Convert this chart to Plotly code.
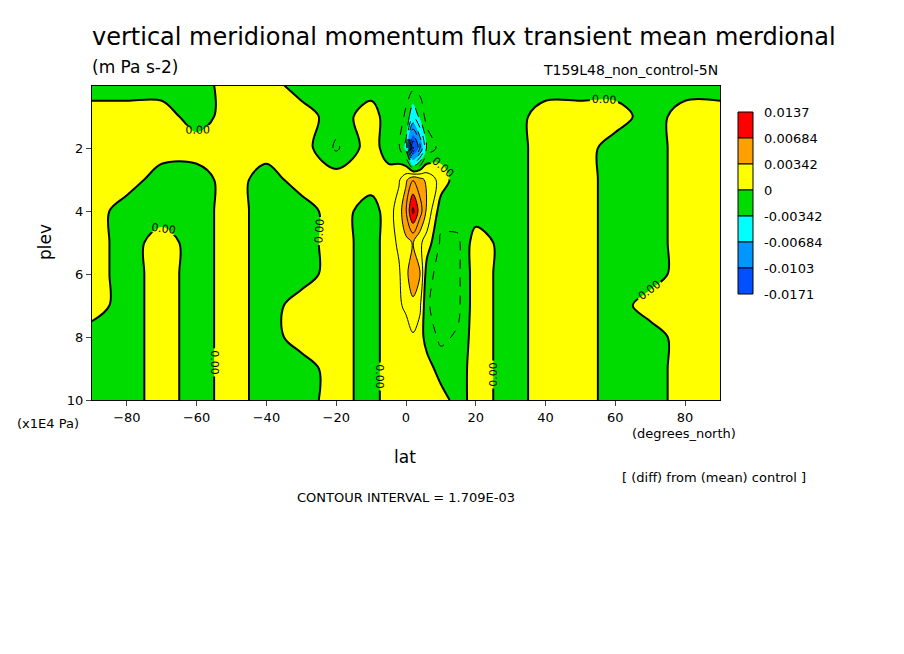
import plotly.graph_objects as go

lats = [-90,-80,-70,-60,-50,-40,-30,-20,-10,-5,-2,0,2,4,6,10,15,20,30,40,50,60,70,80,90]
plevs = [0.0,1,2,3,4,5,6,7,8,9,10]
# values in units of 1e-3 m Pa s-2
z = [
 [-1,-1,-1,-1,1,1,-1,-1,-1,-1,-1,-1,-1,-1,-1,-1,-1,-1,-1,-1,-1,-1,-1,-1,-1],
 [1,1,1,-1,1,1,1,-1,1,-1,-1,-2,-5,-3,-1,-1,-1,-1,-1,1,1,1,-1,1,1],
 [1,1,1,1,1,1,1,-2,1,-1,-1.5,-4,-14,-9,-3,-1,-1,-1,-1,1,1,-1,-1,1,1],
 [1,1,-1,-1,1,-1,1,1,1,1,1.5,3,5,4,3,1,-1,-1,-1,1,1,-1,-1,1,1],
 [1,-1,-1,-1,1,-1,-1,1,-1,1,2.5,5,9,6,3,-1,-1,-1,-1,1,1,-1,-1,1,1],
 [1,-1,1,-1,1,-1,-1,1,-1,1,2,3,3.5,2,1,-2,-2,1,-1,1,1,-1,-1,1,1],
 [1,-1,1,-1,1,-1,-1,1,-1,1,1.5,3,4.5,3.5,-1,-2.5,-2,1,-1,1,1,-1,-1,1,1],
 [1,-1,1,-1,1,-1,1,1,-1,1,1.5,2,3,2,-1.5,-2.5,-2,1,-1,1,1,-1,1,1,1],
 [-1,-1,1,-1,1,-1,1,1,-1,1,1,1,1.5,1,-1,-2,-1.5,1,-1,1,1,-1,-1,1,1],
 [-1,-1,1,-1,1,-1,-1,1,-1,1,1,1,1,1,1,-1,-1,1,-1,1,1,-1,-1,1,1],
 [-1,-1,1,-1,1,-1,-1,1,-1,1,1,1,1,1,1,1,-1,1,-1,1,1,-1,-1,1,1],
]
cb_labels = ["0.0137","0.00684","0.00342","0","-0.00342","-0.00684","-0.0103","-0.0171"]
cb_colors = ["#ff0000","#ffa000","#ffff00","#00dc00","#00ffff","#0096ff","#0050ff"]

step = 1.709
lo, hi = -10*step, 8*step
def pos(v): return (v - lo)/(hi - lo)
bounds = [-10,-6,-4,-2,0,2,4,8]
cols_up = cb_colors[::-1]
cs = []
for i,c in enumerate(cols_up):
    a, b = pos(bounds[i]*step), pos(bounds[i+1]*step)
    cs.append([a, c]); cs.append([b, c])
cs[0][0] = 0; cs[-1][0] = 1

fig = go.Figure()
fig.add_trace(go.Contour(x=lats, y=plevs, z=z, colorscale=cs, zmin=lo, zmax=hi,
    contours=dict(start=lo, end=hi, size=step, coloring="fill", showlines=False),
    showscale=False, line=dict(width=0)))
fig.add_trace(go.Contour(x=lats, y=plevs, z=z, showscale=False,
    contours=dict(start=step, end=hi, size=step, coloring="lines"),
    colorscale=[[0,"black"],[1,"black"]], line=dict(width=1)))
fig.add_trace(go.Contour(x=lats, y=plevs, z=z, showscale=False,
    contours=dict(start=lo, end=-step, size=step, coloring="lines"),
    colorscale=[[0,"black"],[1,"black"]], line=dict(width=1, dash="dash")))
fig.add_trace(go.Contour(x=lats, y=plevs, z=z, showscale=False,
    contours=dict(start=0, end=0, size=1, coloring="lines", showlabels=True,
                  labelfont=dict(size=11, color="black"), labelformat=".2f"),
    colorscale=[[0,"black"],[1,"black"]], line=dict(width=2)))

fig.update_xaxes(range=[-90,90], tickvals=[-80,-60,-40,-20,0,20,40,60,80],
    ticks="outside", ticklen=5, showgrid=False, zeroline=False, mirror=True,
    showline=True, linecolor="black", tickfont=dict(size=13, color="black"))
fig.update_yaxes(range=[10,0.03], tickvals=[2,4,6,8,10],
    ticks="outside", ticklen=5, showgrid=False, zeroline=False, mirror=True,
    showline=True, linecolor="black", tickfont=dict(size=13, color="black"))

def px(x): return (x-92)/628
def py(y): return (400-y)/314
shapes=[]; ann=[]
for i,c in enumerate(cb_colors):
    y0 = 112+26*i
    shapes.append(dict(type="rect", xref="paper", yref="paper", x0=px(738), x1=px(753),
        y0=py(y0+26), y1=py(y0), fillcolor=c, line=dict(color="black", width=1)))
for i,t in enumerate(cb_labels):
    ann.append(dict(text=t, x=px(762), y=py(112+26*i), xanchor="left", yanchor="middle"))
def A(t,x,y,size=13,xa="left",angle=0):
    ann.append(dict(text=t,x=px(x),y=py(y),xanchor=xa,yanchor="middle",font=dict(size=size),textangle=angle))
A("vertical meridional momentum flux transient mean merdional",90,37,24)
A("(m Pa s-2)",90,67,17)
A("T159L48_non_control-5N",720,70,14,"right")
A("plev",45,242,17,"center",-90)
A("lat",405,457,17,"center")
A("(x1E4 Pa)",15,423,13)
A("(degrees_north)",738,433,13,"right")
A("[ (diff) from (mean) control ]",808,477,13,"right")
A("CONTOUR INTERVAL = 1.709E-03",406,497,13,"center")
for a in ann:
    a.update(xref="paper", yref="paper", showarrow=False)
    a.setdefault("font", dict(size=13))
    a["font"]["color"]="black"; a["font"]["family"]="DejaVu Sans"
fig.update_layout(width=904, height=654, margin=dict(l=84,r=192,t=78,b=262),
    paper_bgcolor="white", plot_bgcolor="white", shapes=shapes, annotations=ann,
    font=dict(family="DejaVu Sans", color="black"), showlegend=False)
fig.write_html("out.html")
